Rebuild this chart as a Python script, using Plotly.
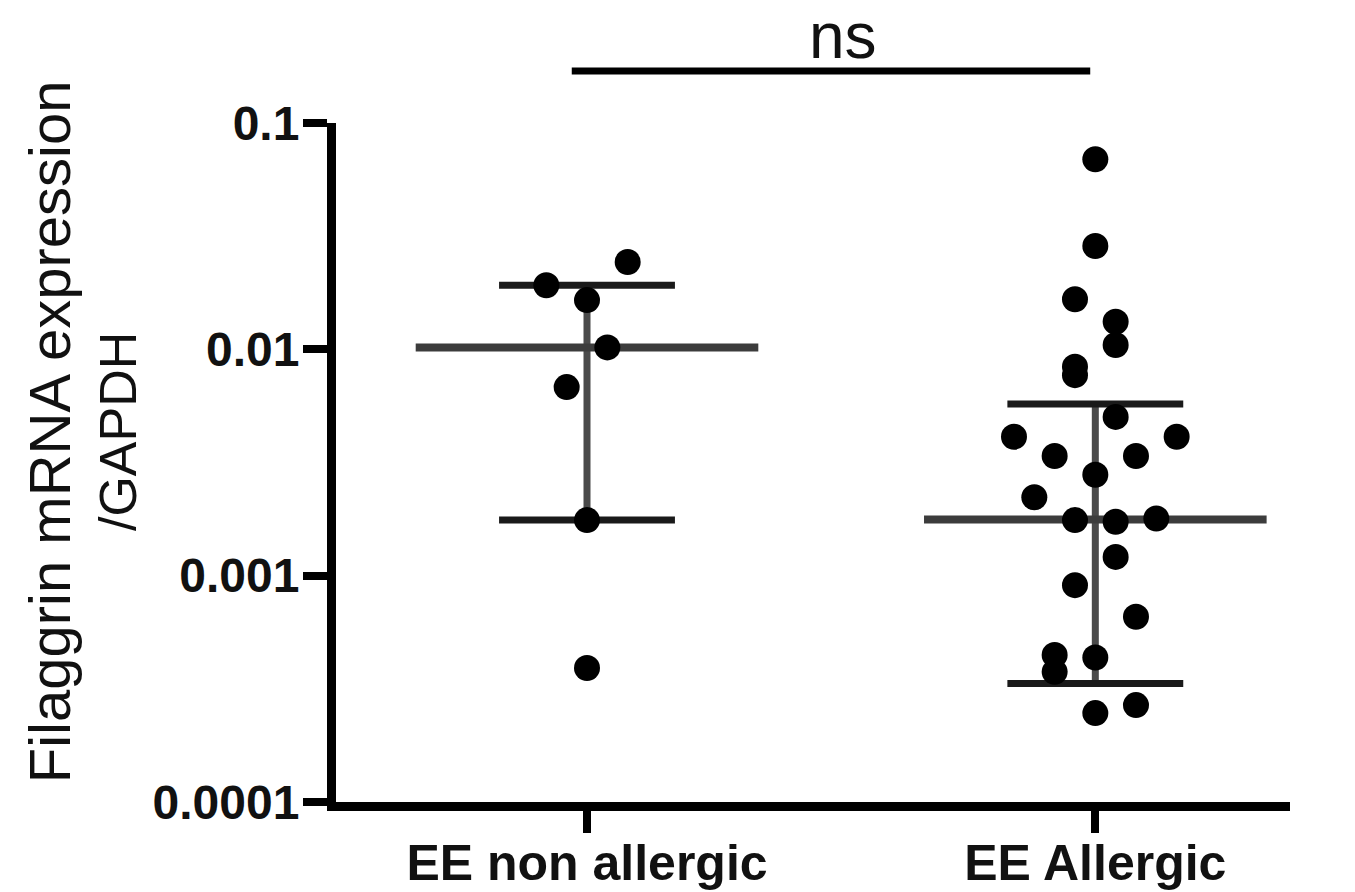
import plotly.graph_objects as go

# ---- data ----
categories = ["EE non allergic", "EE Allergic"]

nonallergic_values = [0.0243, 0.0192, 0.0165, 0.0102, 0.00681, 0.00176, 0.000391]
nonallergic_jitter = [0.08, -0.08, 0.0, 0.04, -0.04, 0.0, 0.0]

allergic_values = [0.0692, 0.0286, 0.01664, 0.01324, 0.01045, 0.00838, 0.00769,
                   0.00503, 0.00411, 0.00411, 0.00338, 0.00338, 0.00279, 0.00222,
                   0.00176, 0.00173, 0.00179, 0.00121, 0.000908, 0.000658,
                   0.000446, 0.000376, 0.000435, 0.000247, 0.000268]
allergic_jitter = [0.0, 0.0, -0.04, 0.04, 0.04, -0.04, -0.04,
                   0.04, -0.16, 0.16, -0.08, 0.08, 0.0, -0.12,
                   -0.04, 0.04, 0.12, 0.04, -0.04, 0.08,
                   -0.08, -0.08, 0.0, 0.0, 0.08]

medians = [0.0102, 0.00177]
upper_bars = [0.0192, 0.00573]
lower_bars = [0.00176, 0.000334]

y_tick_values = [0.0001, 0.001, 0.01, 0.1]
y_tick_labels = ["0.0001", "0.001", "0.01", "0.1"]

y_title_lines = ["Filaggrin mRNA expression", "/GAPDH"]
significance_label = "ns"

# ---- styles ----
FONT = "Liberation Sans, Arial, sans-serif"
MED_HALF = 0.337
CAP_HALF = 0.173

fig = go.Figure()

groups = [(nonallergic_values, nonallergic_jitter), (allergic_values, allergic_jitter)]

for i in range(len(categories)):
    fig.add_trace(go.Scatter(x=[i, i], y=[lower_bars[i], upper_bars[i]], mode="lines",
                             line=dict(color="#4a4a4a", width=7), hoverinfo="skip",
                             showlegend=False))
    for v in (upper_bars[i], lower_bars[i]):
        fig.add_trace(go.Scatter(x=[i - CAP_HALF, i + CAP_HALF], y=[v, v], mode="lines",
                                 line=dict(color="#1a1a1a", width=7), hoverinfo="skip",
                                 showlegend=False))
    fig.add_trace(go.Scatter(x=[i - MED_HALF, i + MED_HALF], y=[medians[i], medians[i]],
                             mode="lines", line=dict(color="#3c3c3c", width=8),
                             hoverinfo="skip", showlegend=False))

for i, (vals, jit) in enumerate(groups):
    fig.add_trace(go.Scatter(x=[i + j for j in jit], y=vals, mode="markers",
                             marker=dict(color="black", size=26, line=dict(width=0)),
                             name=categories[i], showlegend=False))

# significance bracket
fig.add_shape(type="line", xref="x", yref="paper", x0=-0.03, x1=0.99,
              y0=1.0766, y1=1.0766, line=dict(color="black", width=7))
fig.add_annotation(xref="x", yref="paper", x=0.504, y=1.128, text=significance_label,
                   showarrow=False, xanchor="center", yanchor="middle",
                   font=dict(family=FONT, size=64, color="#111"))

# y title (two centred lines)
fig.add_annotation(xref="paper", yref="paper", x=-0.2995, y=0.545,
                   text=y_title_lines[0], textangle=-90, showarrow=False,
                   xanchor="center", yanchor="middle",
                   font=dict(family=FONT, size=58, color="#111"))
fig.add_annotation(xref="paper", yref="paper", x=-0.2284, y=0.545,
                   text=y_title_lines[1], textangle=-90, showarrow=False,
                   xanchor="center", yanchor="middle",
                   font=dict(family=FONT, size=52, color="#111"))

fig.update_layout(
    width=1355, height=892,
    margin=dict(l=328, r=73, t=115, b=98, autoexpand=False),
    plot_bgcolor="white", paper_bgcolor="white",
    showlegend=False,
    font=dict(family=FONT, color="#111"),
)

fig.update_xaxes(range=[-0.4938, 1.383], showgrid=False, zeroline=False,
                 automargin=False,
                 showline=True, linecolor="black", linewidth=9,
                 ticks="outside", ticklen=22, tickwidth=8, tickcolor="black",
                 ticklabelstandoff=-13,
                 tickvals=[0, 1], ticktext=["<b>%s</b>" % c for c in categories],
                 tickfont=dict(family=FONT, size=50, color="#111"))

fig.update_yaxes(type="log", range=[-4, -1], showgrid=False, zeroline=False,
                 automargin=False,
                 showline=True, linecolor="black", linewidth=9,
                 ticks="outside", ticklen=24, tickwidth=8, tickcolor="black",
                 ticklabelstandoff=-6,
                 tickvals=y_tick_values, ticktext=["<b>%s</b>" % t for t in y_tick_labels],
                 tickfont=dict(family=FONT, size=48, color="#111"))

fig.write_html("out.html")
